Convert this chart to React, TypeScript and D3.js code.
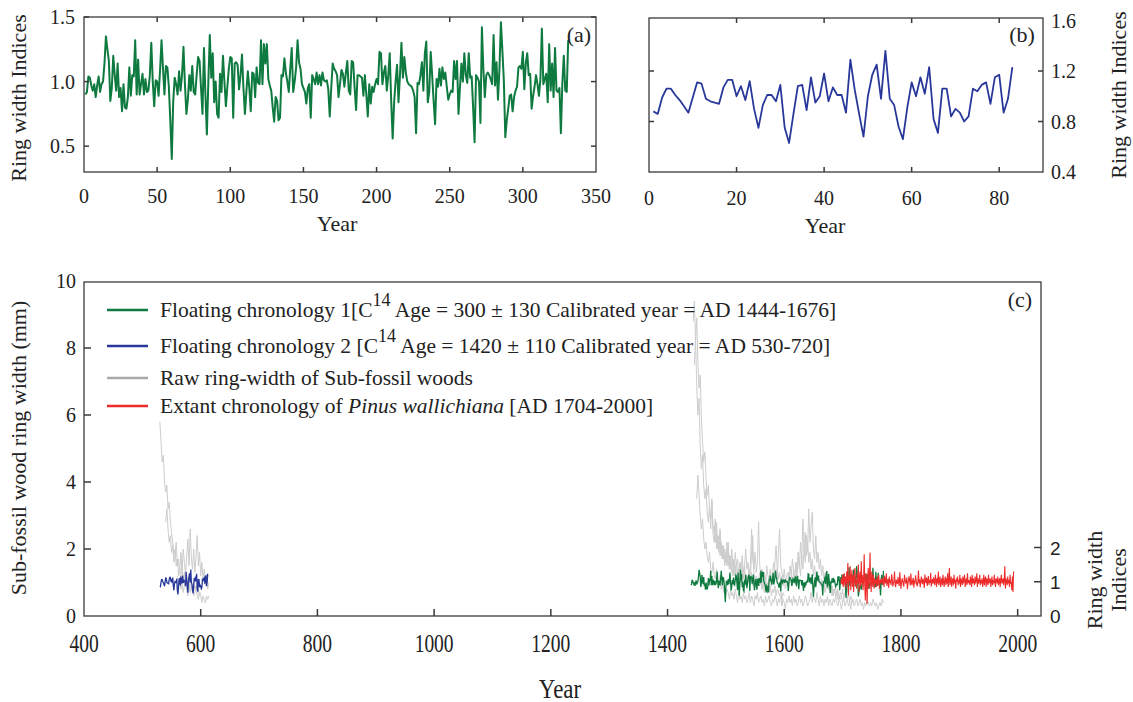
import React from 'react';
import * as d3 from 'd3';

// (a) Floating chronology 1, ring width indices by relative year 1..331
const chronA = [
  0.90, 0.92, 1.04, 1.03, 0.97, 0.93, 0.98, 0.88, 0.97, 1.04,
  0.92, 0.98, 1.00, 1.14, 1.35, 1.25, 1.16, 0.85, 0.95, 1.20,
  1.05, 0.93, 1.14, 0.88, 0.95, 0.77, 0.98, 0.80, 0.79, 0.88,
  1.11, 0.89, 1.05, 1.04, 1.32, 0.90, 1.17, 0.90, 0.98, 1.06,
  0.90, 1.02, 0.92, 0.93, 1.05, 1.30, 1.00, 0.81, 1.01, 1.00,
  0.89, 1.09, 1.32, 1.10, 0.90, 1.12, 1.11, 0.96, 0.70, 0.40,
  0.85, 1.03, 0.98, 0.90, 1.08, 0.93, 1.05, 1.27, 0.98, 0.75,
  0.86, 1.05, 0.93, 1.12, 0.92, 0.90, 1.05, 1.19, 1.16, 0.95,
  0.75, 1.26, 0.90, 0.59, 1.00, 1.36, 1.03, 1.22, 0.84, 1.00,
  0.75, 0.72, 1.06, 0.92, 1.20, 1.00, 0.81, 0.96, 1.10, 1.19,
  1.18, 0.72, 1.14, 1.15, 1.13, 0.94, 1.05, 1.21, 0.95, 0.75,
  0.92, 1.08, 0.95, 0.77, 1.07, 1.06, 0.88, 1.11, 0.99, 0.98,
  1.32, 0.98, 1.29, 1.14, 1.29, 1.02, 0.97, 0.93, 0.80, 0.69,
  0.88, 0.85, 0.70, 0.72, 1.05, 1.04, 1.18, 1.07, 1.00, 0.92,
  1.10, 1.26, 0.92, 1.00, 1.11, 1.32, 1.15, 1.10, 0.98, 0.95,
  0.92, 0.83, 0.95, 0.98, 0.72, 1.05, 1.02, 0.98, 1.07, 0.98,
  1.05, 0.97, 1.07, 1.01, 1.00, 1.01, 0.94, 0.73, 0.95, 1.14,
  1.10, 1.08, 1.05, 0.88, 0.98, 1.09, 1.06, 0.96, 1.07, 1.16,
  0.93, 0.90, 1.16, 1.15, 0.95, 0.78, 1.05, 1.05, 1.04, 1.03,
  0.89, 1.05, 0.90, 0.73, 0.98, 0.83, 0.96, 0.92, 0.98, 1.02,
  0.98, 1.23, 1.22, 0.98, 1.07, 1.12, 0.93, 1.05, 1.22, 0.85,
  0.56, 0.84, 1.00, 1.13, 0.84, 1.05, 1.30, 1.03, 1.19, 1.07,
  1.00, 0.98, 0.97, 0.96, 0.93, 0.88, 0.60, 0.99, 0.98, 1.05,
  1.15, 0.93, 1.22, 1.31, 0.84, 0.92, 1.23, 1.05, 0.85, 0.67,
  1.02, 0.96, 1.10, 0.97, 1.11, 1.02, 1.07, 0.96, 0.86, 0.90,
  0.93, 0.92, 1.16, 1.02, 1.16, 0.75, 0.95, 1.14, 1.00, 1.22,
  1.05, 0.99, 1.22, 1.03, 1.04, 0.80, 0.53, 1.05, 1.03, 1.00,
  0.68, 1.42, 1.10, 0.88, 1.05, 1.07, 1.05, 1.02, 0.98, 1.36,
  0.97, 1.15, 0.86, 1.10, 1.46, 1.24, 1.01, 0.57, 0.70, 0.79,
  0.89, 0.90, 0.77, 0.88, 0.93, 0.96, 1.11, 1.12, 1.10, 1.23,
  0.94, 1.14, 1.22, 1.05, 1.06, 0.79, 0.89, 0.96, 1.05, 0.98,
  0.89, 1.02, 1.41, 0.98, 1.02, 1.06, 0.84, 1.29, 0.93, 1.14,
  0.88, 1.26, 0.93, 0.92, 0.95, 0.60, 0.99, 1.20, 0.93, 0.92,
  1.32,
];

// (b) Floating chronology 2, relative year 1..83
const chronB = [
  0.88, 0.86, 0.99, 1.06, 1.06, 1.01, 0.97, 0.92, 0.87, 0.99,
  1.11, 1.10, 0.98, 0.96, 0.95, 0.94, 1.07, 1.13, 1.13, 1.00,
  1.08, 0.97, 1.12, 0.90, 0.75, 0.93, 1.01, 1.01, 0.96, 1.09,
  0.75, 0.63, 0.86, 1.08, 1.09, 0.89, 1.15, 0.95, 1.00, 1.18,
  0.96, 1.07, 1.01, 1.01, 0.87, 1.29, 1.05, 0.86, 0.68, 1.00,
  1.17, 1.25, 0.98, 1.36, 0.98, 0.93, 0.76, 0.66, 0.91, 1.11,
  1.00, 1.15, 1.02, 1.23, 0.82, 0.71, 1.06, 1.06, 0.84, 0.90,
  0.87, 0.80, 0.84, 1.06, 1.04, 1.09, 1.11, 0.94, 1.15, 1.17,
  0.87, 0.98, 1.23,
];

// placement of the floating chronologies on the calendar axis of (c)
const chronAStart = 1440;
const chronBStart = 530;

// Extant chronology of Pinus wallichiana (indices)
const extantStart = 1697;
const extant = [
  0.95, 1.10, 0.92, 1.20, 0.85, 1.05, 1.25, 0.90, 1.15, 0.80,
  1.30, 0.95, 1.55, 0.60, 1.20, 1.00, 1.45, 0.75, 1.10, 1.35,
  0.85, 1.20, 0.70, 1.15, 1.40, 0.90, 1.05, 0.80, 1.25, 0.95,
  1.50, 0.70, 1.10, 1.30, 0.85, 1.60, 0.95, 1.20, 0.75, 1.05,
  1.80, 0.90, 0.45, 1.25, 1.00, 0.35, 1.15, 1.40, 0.80, 1.10,
  1.85, 0.95, 0.70, 1.30, 1.05, 0.85, 1.20, 0.80, 1.10, 0.95,
  1.05, 0.85, 1.15, 0.90, 1.00, 1.20, 0.80, 1.05, 0.95, 1.10,
  1.05, 0.92, 1.12, 0.98, 0.85, 1.18, 1.02, 0.95, 1.25, 0.88,
  1.00, 1.08, 0.82, 1.15, 0.97, 1.04, 0.90, 1.22, 1.10, 0.86,
  0.95, 1.02, 1.30, 0.92, 0.84, 1.06, 1.00, 0.93, 1.14, 0.99,
  0.88, 1.28, 1.05, 0.80, 0.97, 1.10, 1.03, 0.91, 0.86, 1.20,
  1.08, 0.95, 1.00, 1.12, 0.78, 0.94, 1.06, 1.16, 1.01, 0.89,
  1.24, 0.96, 0.90, 1.04, 1.11, 0.83, 1.00, 0.97, 1.19, 1.05,
  0.92, 0.87, 1.02, 1.33, 0.95, 1.07, 0.84, 0.99, 1.15, 1.00,
  0.93, 1.09, 0.98, 0.82, 1.21, 1.04, 0.96, 1.12, 0.88, 1.02,
  1.17, 0.91, 1.05, 0.97, 1.26, 0.86, 0.99, 1.08, 0.94, 1.13,
  1.00, 0.90, 1.20, 1.05, 0.85, 1.10, 0.95, 1.30, 0.90, 1.05,
  1.15, 0.85, 1.00, 1.10, 0.90, 1.20, 1.00, 0.85, 1.05, 1.15,
  0.90, 1.10, 0.95, 1.25, 0.85, 1.05, 1.40, 0.90, 1.00, 1.15,
  0.85, 1.05, 1.10, 0.90, 1.20, 0.95, 1.05, 0.80, 1.10, 1.00,
  1.15, 0.90, 1.05, 0.95, 1.20, 0.85, 1.10, 1.00, 0.90, 1.15,
  0.95, 1.05, 1.20, 0.85, 1.00, 1.10, 0.90, 1.25, 0.95, 1.05,
  1.00, 0.90, 1.15, 1.05, 0.85, 1.20, 0.95, 1.10, 1.00, 0.90,
  1.15, 0.95, 1.05, 1.25, 0.85, 1.10, 0.95, 1.00, 1.20, 0.90,
  1.05, 0.95, 1.10, 0.85, 1.00, 1.20, 0.90, 1.05, 1.15, 0.85,
  1.10, 1.00, 0.90, 1.20, 0.95, 1.05, 1.10, 0.85, 1.00, 1.15,
  0.90, 1.05, 0.95, 1.20, 1.00, 0.85, 1.10, 1.05, 0.95, 1.15,
  0.90, 1.00, 1.10, 0.85, 1.05, 1.20, 0.95, 1.00, 1.10, 0.90,
  1.05, 1.45, 0.80, 1.10, 1.00, 0.90, 1.15, 0.95, 1.05, 0.85,
  1.20, 0.95, 1.00, 0.75, 1.15, 0.70, 1.30,
];

// raw ring widths (mm) of sub-fossil samples, read every 2 years
const rawStep = 2;
const raw1 = [5.8, 5.2, 4.6, 4.8, 4.0, 3.7, 3.9, 3.2, 3.4, 2.8, 2.5, 2.2, 1.8, 2.0, 1.5, 1.7, 1.2, 1.4, 1.1, 1.6, 1.0, 1.3, 0.9, 1.2, 1.0, 0.8, 1.1, 0.9, 0.7, 1.0, 0.8, 0.9, 0.7, 0.8, 0.6, 0.7];
const raw2 = [2.8, 3.2, 2.6, 2.2, 2.4, 1.9, 2.1, 1.6, 1.8, 2.2, 1.5, 1.7, 1.3, 1.9, 1.4, 2.0, 1.6, 1.2, 1.8, 2.3, 1.5, 2.6, 1.7, 1.4, 2.0, 1.3, 1.8, 2.4, 1.5, 1.9, 1.2, 1.6, 1.1, 1.4, 0.9, 1.2, 0.8, 1.0];
const raw3 = [1.2, 0.9, 1.1, 0.8, 1.0, 0.7, 0.9, 1.1, 0.8, 0.6, 0.9, 0.7, 1.0, 0.8, 0.6, 0.7, 0.9, 0.6, 0.5, 0.7, 0.6, 0.4, 0.6, 0.5, 0.4, 0.6, 0.5, 0.6];
const raw4 = [
  8.8, 9.4, 8.2, 8.9, 7.6, 6.8, 7.2, 5.9, 5.2, 4.6, 4.9, 4.1, 3.6, 3.9, 3.2, 2.9, 3.4, 2.7, 2.5, 2.9,
  2.2, 2.4, 2.0, 2.6, 1.9, 1.7, 2.1, 1.6, 1.8, 1.5, 1.9, 1.4, 1.6, 1.3, 1.7, 1.2, 1.5, 1.1, 1.4, 1.2,
  1.6, 1.0, 1.3, 1.1, 1.5, 0.9, 1.2, 1.0, 1.4, 1.1, 1.3, 0.9, 1.2, 1.0, 1.1, 0.8, 1.0, 0.9, 1.2, 0.8,
  1.0, 0.7, 0.9, 0.8, 1.0, 0.7, 0.9, 0.6, 0.8, 0.7, 0.9, 0.6, 0.8, 0.7, 0.6, 0.8, 0.5, 0.7, 0.6,
];
const raw5 = [
  7.5, 8.3, 6.9, 6.0, 6.5, 5.1, 4.4, 4.8, 3.9, 3.5, 3.8, 3.1, 2.8, 3.3, 2.6, 3.5, 2.4, 2.2, 2.7, 2.0,
  2.3, 1.9, 2.5, 1.8, 2.1, 1.7, 2.0, 1.6, 2.2, 1.5, 1.8, 1.4, 2.0, 1.6, 1.3, 1.9, 1.5, 1.7, 1.2, 1.6,
  1.4, 1.8, 1.3, 1.5, 2.0, 1.4, 1.6, 1.2, 1.5, 2.6, 1.7, 1.4, 1.9, 1.3, 1.6, 2.8, 1.5, 1.2, 1.4, 1.1,
  1.3, 1.0, 1.5, 1.2, 1.1, 1.4, 1.0, 1.3, 1.6, 1.2, 1.4, 1.1, 1.9, 2.6, 1.5, 1.3, 1.1, 1.4, 1.0, 1.2,
  1.3, 1.0, 1.5, 1.2, 1.7, 1.4, 1.1, 1.6, 1.3, 1.9, 1.5, 1.2, 1.8, 1.4, 2.1, 1.6, 2.4, 1.9, 3.2, 2.2,
  2.7, 3.1, 2.0, 1.7, 2.4, 1.6, 1.9, 1.4, 1.7, 1.2, 1.5, 1.1, 1.3, 0.9, 1.2, 0.8, 1.0, 0.7, 0.9, 0.6,
  0.8, 0.6, 0.7, 0.5, 0.6, 0.5, 0.6, 0.4,
];
const raw6 = [
  3.5, 4.2, 3.6, 3.0, 2.6, 2.9, 2.3, 2.0, 2.2, 1.8, 1.6, 1.9, 1.4, 1.3, 1.6, 1.2, 1.1, 1.4, 1.0, 0.9,
  1.2, 0.8, 1.0, 0.7, 0.9, 0.6, 0.8, 0.7, 0.5, 0.8, 0.6, 0.7, 0.5, 0.8, 0.6, 0.4, 0.7, 0.5, 0.6, 0.4,
  0.7, 0.5, 0.6, 0.4, 0.5, 0.7, 0.4, 0.6, 0.5, 0.3, 0.6, 0.5, 0.7, 0.4, 0.5, 0.6, 0.4, 0.5, 0.3, 0.6,
  0.4, 0.5, 0.6, 0.4, 0.3, 0.5, 0.4, 0.6, 0.5, 0.3, 0.5, 0.4, 0.6, 0.3, 0.5, 0.4, 0.2, 0.5, 0.4, 0.6,
  0.4, 0.5, 0.3, 0.6, 0.4, 0.5, 0.3, 0.4, 0.6, 0.4, 0.5, 0.3, 0.4, 0.6, 0.5, 0.3, 0.4, 0.5, 0.7, 0.4,
  0.6, 0.5, 0.4, 0.7, 0.5, 0.3, 0.6, 0.4, 0.5, 0.3, 0.5, 0.4, 0.6, 0.3, 0.5, 0.4, 0.3, 0.5, 0.4, 0.6,
  0.4, 0.3, 0.5, 0.4, 0.2, 0.4, 0.5, 0.3, 0.4, 0.5, 0.3, 0.4, 0.2, 0.5, 0.4, 0.3, 0.4, 0.5, 0.3, 0.4,
  0.5, 0.3, 0.4, 0.2, 0.4, 0.3, 0.5, 0.4, 0.3, 0.4, 0.3, 0.5, 0.4, 0.3, 0.4, 0.2, 0.3, 0.4, 0.3, 0.5,
  0.4,
];
const raw7 = [
  2.5, 2.2, 2.8, 2.0, 2.4, 1.8, 2.2, 1.7, 2.0, 1.5, 1.9, 1.6, 2.2, 1.4, 1.8, 1.5, 1.2, 1.7, 1.3, 1.6,
  1.1, 1.4, 1.2, 1.0, 1.5, 1.1, 1.3, 0.9, 1.2, 1.0, 1.4, 1.1, 1.9, 2.4, 1.3, 1.0, 1.2, 0.9, 1.1, 1.3,
  1.0, 0.8, 1.1, 0.9, 1.2, 0.8, 1.0, 0.7, 1.1, 0.9, 1.3, 1.0, 1.6, 2.1, 1.4, 1.1, 1.3, 1.0, 1.2, 0.9,
  1.1, 0.8, 1.0, 0.9, 1.3, 1.0, 1.2, 0.9, 1.4, 1.1, 1.6, 1.2, 1.9, 1.4, 2.2, 1.7, 2.9, 2.0, 2.5, 1.8,
  2.2, 1.6, 1.9, 1.4, 1.7, 1.2, 1.5, 1.1, 1.3, 1.0, 1.2, 0.9, 1.1, 0.8, 1.0, 0.7, 0.9, 0.8, 1.0, 0.7,
  0.9, 0.6, 0.8, 0.7, 0.9, 0.6, 0.8, 0.5, 0.7, 0.6, 0.8, 0.5, 0.7, 0.6, 0.5, 0.7, 0.4, 0.6, 0.5, 0.4,
  0.5,
];
const rawSeries = [raw1, raw2, raw3, raw4, raw5, raw6, raw7];
const rawStarts = [530, 540, 560, 1444, 1446, 1450, 1480];

const ticksA = [0, 50, 100, 150, 200, 250, 300, 350];
const ticksAY = [0.5, 1.0, 1.5];
const ticksB = [0, 20, 40, 60, 80];
const ticksBY = [0.4, 0.8, 1.2, 1.6];
const ticksC = [400, 600, 800, 1000, 1200, 1400, 1600, 1800, 2000];
const ticksCY = [0, 2, 4, 6, 8, 10];
const ticksCI = [0, 1, 2];

const GREEN = '#0e7a3f';
const BLUE = '#28389a';
const RED = '#ee2b2b';
const GRAY = '#cdcdcd';
const AXIS = '#3a3a3a';
const FONT = '"Liberation Serif", "Times New Roman", serif';
const SANS = '"Liberation Sans", Arial, sans-serif';

function Frame({ x0, x1, y0, y1, xt, yt, xs, ys, len = 5, top = true, right = true }: any) {
  return (
    <g stroke={AXIS} strokeWidth={1.5} fill="none">
      <rect x={x0} y={y0} width={x1 - x0} height={y1 - y0} strokeWidth={1.3} />
      {xt.map((t: number) => (
        <g key={'x' + t}>
          <line x1={xs(t)} x2={xs(t)} y1={y1} y2={y1 - len} />
          {top && <line x1={xs(t)} x2={xs(t)} y1={y0} y2={y0 + len} />}
        </g>
      ))}
      {yt.map((t: number) => (
        <g key={'y' + t}>
          <line x1={x0} x2={x0 + len} y1={ys(t)} y2={ys(t)} />
          {right && <line x1={x1} x2={x1 - len} y1={ys(t)} y2={ys(t)} />}
        </g>
      ))}
    </g>
  );
}

export default function App() {
  // panel (a)
  const xa = d3.scaleLinear().domain([0, 350]).range([84, 596]);
  const ya = d3.scaleLinear().domain([0.3, 1.5]).range([172, 17]);
  const lineA = d3.line<number>().x((_, i) => xa(i + 1)).y(d => ya(d));

  // panel (b)
  const xb = d3.scaleLinear().domain([0, 90]).range([649, 1043]);
  const yb = d3.scaleLinear().domain([0.4, 1.6]).range([172, 20.5]);
  const lineB = d3.line<number>().x((_, i) => xb(i + 1)).y(d => yb(d));

  // panel (c)
  const xc = d3.scaleLinear().domain([400, 2040]).range([84, 1041]);
  const yc = d3.scaleLinear().domain([0, 10]).range([616, 281]);
  const yi = d3.scaleLinear().domain([0, 2]).range([616, 547.5]);
  const idxLine = (start: number) => d3.line<number>().x((_, i) => xc(start + i)).y(d => yi(d));
  const rawLine = (start: number) => d3.line<number>().x((_, i) => xc(start + i * rawStep)).y(d => yc(d));

  const legend = [
    { color: GREEN, y: 310 },
    { color: BLUE, y: 346 },
    { color: '#a9a9a9', y: 378 },
    { color: RED, y: 406 },
  ];

  return (
    <svg width={1133} height={702} style={{ position: 'absolute', left: 0, top: 0, background: '#fff' }} fontFamily={FONT}>
      {/* ---------- (a) ---------- */}
      <path d={lineA(chronA) || ''} fill="none" stroke={GREEN} strokeWidth={2} strokeLinejoin="round" />
      <Frame x0={84} x1={596} y0={17} y1={172} xt={ticksA.slice(1, -1)} yt={ticksAY} xs={xa} ys={ya} />
      <g fontSize={20} fill="#222">
        {ticksA.map(t => (
          <text key={t} x={xa(t)} y={203} textAnchor="middle">{t}</text>
        ))}
        {ticksAY.map(t => (
          <text key={t} x={75} y={ya(t) + 7} textAnchor="end">{t.toFixed(1)}</text>
        ))}
      </g>
      <g fontSize={22} fill="#222">
        <text x={337} y={231} textAnchor="middle">Year</text>
        <text transform="translate(26,98) rotate(-90)" textAnchor="middle">Ring width Indices</text>
        <text x={579} y={42} textAnchor="middle">(a)</text>
      </g>

      {/* ---------- (b) ---------- */}
      <path d={lineB(chronB) || ''} fill="none" stroke={BLUE} strokeWidth={1.8} strokeLinejoin="round" />
      <Frame x0={649} x1={1043} y0={18} y1={172} xt={ticksB.slice(1)} yt={ticksBY.slice(1, -1)} xs={xb} ys={yb} />
      <g fontSize={20} fill="#222">
        {ticksB.map(t => (
          <text key={t} x={xb(t)} y={205} textAnchor="middle">{t}</text>
        ))}
        {ticksBY.map(t => (
          <text key={t} x={1051} y={yb(t) + 7}>{t.toFixed(1)}</text>
        ))}
      </g>
      <g fontSize={22} fill="#222">
        <text x={825} y={233} textAnchor="middle">Year</text>
        <text transform="translate(1126,95) rotate(-90)" textAnchor="middle">Ring width Indices</text>
        <text x={1022} y={42} textAnchor="middle">(b)</text>
      </g>

      {/* ---------- (c) ---------- */}
      {rawSeries.map((s, k) => (
        <path key={k} d={rawLine(rawStarts[k])(s) || ''} fill="none" stroke={GRAY} strokeWidth={1} />
      ))}
      <path d={idxLine(chronBStart)(chronB) || ''} fill="none" stroke={BLUE} strokeWidth={1.3} />
      <path d={idxLine(chronAStart)(chronA) || ''} fill="none" stroke={GREEN} strokeWidth={1.3} />
      <path d={idxLine(extantStart)(extant) || ''} fill="none" stroke={RED} strokeWidth={1.1} />

      <g stroke={AXIS} strokeWidth={1.5} fill="none">
        <rect x={84} y={282} width={1041 - 84} height={616 - 282} strokeWidth={1.3} />
        {ticksC.slice(1).map(t => (
          <line key={t} x1={xc(t)} x2={xc(t)} y1={616} y2={609} />
        ))}
        {ticksCY.slice(1, -1).map(t => (
          <line key={t} x1={84} x2={91} y1={yc(t)} y2={yc(t)} />
        ))}
        {ticksCI.slice(1).map(t => (
          <line key={t} x1={1041} x2={1034} y1={yi(t)} y2={yi(t)} />
        ))}
      </g>

      <g fontSize={20} fill="#222">
        {ticksCY.map(t => (
          <text key={t} x={76} y={yc(t) + 7} textAnchor="end">{t}</text>
        ))}
      </g>
      <g fontSize={19} fill="#222" fontFamily={SANS}>
        {ticksCI.map(t => (
          <text key={t} x={1050} y={yi(t) + 7}>{t}</text>
        ))}
      </g>
      <g fontSize={22} fill="#222">
        <text transform="translate(26,448) rotate(-90)" textAnchor="middle">Sub-fossil wood ring width (mm)</text>
        <text transform="translate(1102,580) rotate(-90)" textAnchor="middle">Ring width</text>
        <text transform="translate(1126,580) rotate(-90)" textAnchor="middle">Indices</text>
        <text x={1020} y={307} textAnchor="middle">(c)</text>
      </g>
      <g fontSize={25} fill="#222">
        {ticksC.map(t => (
          <text key={t} transform={`translate(${xc(t)},652) scale(0.78,1)`} textAnchor="middle">{t}</text>
        ))}
        <text transform="translate(560,698) scale(0.85,1)" textAnchor="middle" fontSize={27}>Year</text>
      </g>

      {/* legend */}
      {legend.map((l, i) => (
        <line key={i} x1={107} x2={148} y1={l.y} y2={l.y} stroke={l.color} strokeWidth={2.5} />
      ))}
      <g fontSize={21.5} fill="#222">
        <text x={160} y={317}>
          Floating chronology 1[C<tspan dy={-11} fontSize={18}>14</tspan>
          <tspan dy={11}> Age = 300 ± 130 Calibrated year = AD 1444-1676]</tspan>
        </text>
        <text x={160} y={353}>
          Floating chronology 2 [C<tspan dy={-11} fontSize={18}>14</tspan>
          <tspan dy={11}> Age = 1420 ± 110 Calibrated year = AD 530-720]</tspan>
        </text>
        <text x={160} y={385}>Raw ring-width of Sub-fossil woods</text>
        <text x={160} y={413}>
          Extant chronology of <tspan fontStyle="italic">Pinus wallichiana</tspan> [AD 1704-2000]
        </text>
      </g>
    </svg>
  );
}
